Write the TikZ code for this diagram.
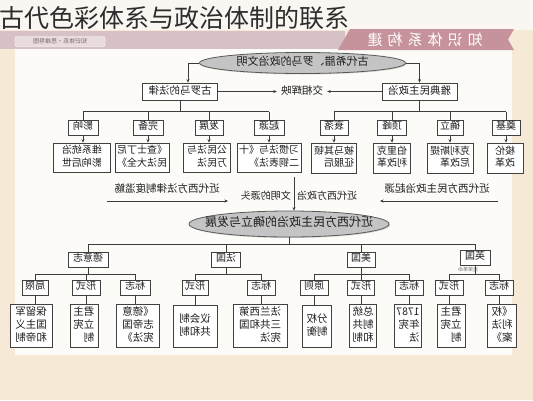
\documentclass[tikz,border=0pt]{standalone}
\usepackage{fontspec}
\usepackage{graphicx}
\setmainfont{Noto Sans CJK SC}
\usetikzlibrary{arrows.meta,shadows,shapes.geometric}
\definecolor{bgc}{RGB}{246,233,214}
\definecolor{topc}{RGB}{250,247,242}
\definecolor{mainc}{RGB}{252,251,248}
\definecolor{band}{RGB}{216,193,198}
\definecolor{lblc}{RGB}{232,220,222}
\definecolor{rib}{RGB}{198,146,155}
\definecolor{lc}{RGB}{60,60,60}
\definecolor{bc}{RGB}{65,65,65}
\definecolor{tc}{RGB}{30,30,30}
\definecolor{ef}{RGB}{196,196,196}
\definecolor{ec}{RGB}{90,90,90}
\newcommand{\mirr}[1]{\reflectbox{\begin{tabular}{@{}l@{}}#1\end{tabular}}}
\begin{document}
\begin{tikzpicture}[x=1pt,y=-1pt,
  conn/.style={draw=lc, line width=0.7pt},
  arr/.style={conn, -{Stealth[length=3.5pt,width=3pt]}},
  cat/.style={draw=bc, fill=white, line width=0.7pt, inner sep=1.5pt, text=tc,
    font=\fontsize{10}{12}\selectfont, minimum height=15pt,
    drop shadow={shadow xshift=0.8pt, shadow yshift=-0.8pt, opacity=0.3}},
  det/.style={cat, inner sep=2pt, font=\fontsize{10}{12.5}\selectfont},
  detb/.style={cat, inner sep=2pt, font=\fontsize{10.5}{13}\selectfont},
  ell/.style={ellipse, draw=ec, fill=ef, line width=0.8pt, inner sep=0pt,
    drop shadow={shadow xshift=1pt, shadow yshift=-1pt, opacity=0.3}},
  lab/.style={text=tc, inner sep=1pt, font=\fontsize{10.5}{12}\selectfont}
]
\useasboundingbox (0,0) rectangle (533,400);
% background
\fill[bgc] (0,0) rectangle (533,400);
\fill[topc] (0,0) rectangle (533,30);
\fill[mainc] (15,49) rectangle (512,355);
% banner
\fill[band] (0,31) rectangle (345,48.5);
\node[fill=lblc, draw=white, rounded corners=2pt, minimum width=90pt, minimum height=10pt,
  inner sep=0.5pt, text={rgb,255:red,125;green,105;blue,110}, font=\fontsize{6}{7}\selectfont]
  (lbl) at (60,41.5) {\reflectbox{知识体系·思维导图}};
\fill[rib] (338,50) -- (350,29) -- (514,29) -- (508,39.5) -- (514,50) -- cycle;
\node[text=white, inner sep=0pt, font=\fontsize{15}{17}\selectfont] (ribt) at (425,40)
  {\reflectbox{知\hspace{5pt}识\hspace{5pt}体\hspace{5pt}系\hspace{5pt}构\hspace{5pt}建}};
% title
\node[anchor=west, inner sep=0pt, text={rgb,255:red,45;green,45;blue,45}, font=\fontsize{25}{28}\selectfont] (title) at (-1,18)
  {古代色彩体系与政治体制的联系};

% ===== top ellipse
\node[ell, minimum width=206pt, minimum height=21pt] (top) at (302.5,63) {};
\node[lab, font=\fontsize{11}{13}\selectfont] (toptxt) at (top.center) {\mirr{古代希腊、罗马的政治文明}};
\node[cat, minimum width=75pt, minimum height=17pt, font=\fontsize{10.5}{12}\selectfont] (rome) at (180,91.5) {\mirr{古罗马的法律}};
\node[cat, minimum width=75pt, minimum height=17pt, font=\fontsize{10.5}{12}\selectfont] (athens) at (419.5,91.5) {\mirr{雅典民主政治}};
\draw[arr] (top.west) -| ([xshift=8pt]rome.north);
\draw[arr] (top.east) -| (athens.north);
\node[lab] (jx) at (302,91.5) {\mirr{交相辉映}};
\draw[arr, shorten >=3pt] (rome.east) -- (jx.west);
\draw[arr, shorten >=3pt] (athens.west) -- (jx.east);

% categories
\coordinate (barA) at (0,111.5);
\node[cat, minimum width=30pt] (c1) at (83,127.5) {\mirr{影响}};
\node[cat, minimum width=30pt] (c2) at (148,127.5) {\mirr{完备}};
\node[cat, minimum width=28pt] (c3) at (209,127.5) {\mirr{发展}};
\node[cat, minimum width=30pt] (c4) at (269,127.5) {\mirr{起源}};
\node[cat, minimum width=28pt] (c5) at (334,127.5) {\mirr{衰落}};
\node[cat, minimum width=29pt] (c6) at (392,127.5) {\mirr{顶峰}};
\node[cat, minimum width=26pt] (c7) at (450,127.5) {\mirr{确立}};
\node[cat, minimum width=28pt] (c8) at (506,127.5) {\mirr{奠基}};
\draw[conn] (rome.south) -- (rome.south |- barA);
\draw[conn] (athens.south) -- (athens.south |- barA);
\draw[conn] (c1.north |- barA) -- (c4.north |- barA);
\draw[conn] (c5.north |- barA) -- (c8.north |- barA);
\foreach \n in {c1,c2,c3,c4,c5,c6,c7,c8} \draw[conn] (\n.north) -- (\n.north |- barA);

% details top
\node[det, minimum width=57pt, minimum height=29pt] (d1) at (82,157.5) {\mirr{维系统治\\影响后世}};
\node[det, minimum width=51pt, minimum height=29pt] (d2) at (142,157.5) {\mirr{《查士丁尼\\民法大全》}};
\node[det, minimum width=47pt, minimum height=29pt] (d3) at (207,157.5) {\mirr{公民法与\\万民法}};
\node[det, minimum width=62pt, minimum height=29pt] (d4) at (269,157.5) {\mirr{习惯法与《十\\二铜表法》}};
\node[det, minimum width=45pt, minimum height=30pt] (d5) at (334,158) {\mirr{被马其顿\\征服后}};
\node[det, minimum width=37pt, minimum height=30pt] (d6) at (392,158) {\mirr{伯里克\\利改革}};
\node[det, minimum width=46pt, minimum height=30pt] (d7) at (450,158) {\mirr{克利斯提\\尼改革}};
\node[det, minimum width=36pt, minimum height=30pt] (d8) at (505,158) {\mirr{梭伦\\改革}};
\foreach \i in {1,...,8} \draw[arr] (c\i.south) -- (c\i.south |- d\i.north);

% middle
\node[lab] (lawsrc) at (167,189.5) {\mirr{近代西方法律制度滥觞}};
\coordinate (la1) at (107,201);
\coordinate (la2) at (228,201);
\draw[arr] (la1) -- (la2);
\node[lab] (demsrc) at (437,189.5) {\mirr{近代西方民主政治起源}};
\coordinate (ra1) at (498,201);
\coordinate (ra2) at (380,201);
\draw[arr] (ra1) -- (ra2);
\node[ell, minimum width=200pt, minimum height=26pt] (bot) at (289,224) {};
\node[lab, font=\fontsize{12}{14}\selectfont] (bottxt) at (bot.center) {\mirr{近代西方民主政治的确立与发展}};
\coordinate (vtop) at (294,177);
\draw[arr] (vtop) -- (vtop |- bot.north);
\node[lab, font=\fontsize{10}{12}\selectfont, anchor=east] (src1) at (292,197) {\mirr{文明的源头}};
\node[lab, font=\fontsize{10}{12}\selectfont, anchor=west] (src2) at (296,197) {\mirr{近代西方政治}};

% countries
\coordinate (barC) at (0,244);
\node[cat, minimum width=40pt, minimum height=14pt] (de) at (88,259.5) {\mirr{德意志}};
\node[cat, minimum width=29pt, minimum height=14pt] (fr) at (226,259.5) {\mirr{法国}};
\node[cat, minimum width=28pt, minimum height=14pt] (us) at (361,259.5) {\mirr{美国}};
\node[cat, minimum width=30pt, minimum height=14pt] (uk) at (475,257.5) {\mirr{英国}};
\draw[conn] (bot.south) -- (bot.south |- barC);
\draw[conn] (de.north |- barC) -- (uk.north |- barC);
\foreach \n in {de,fr,us,uk} \draw[conn] (\n.north) -- (\n.north |- barC);
\node[inner sep=0pt, text={rgb,255:red,120;green,120;blue,120}, font=\fontsize{5}{6}\selectfont] (uklbl) at (468,270) {\reflectbox{光荣革命}};

% subcategories
\coordinate (barD) at (0,274);
\node[cat, minimum width=26pt] (s1) at (35,287.5) {\mirr{局限}};
\node[cat, minimum width=28pt] (s2) at (86,287.5) {\mirr{形式}};
\node[cat, minimum width=30pt] (s3) at (135,287.5) {\mirr{标志}};
\node[cat, minimum width=26pt] (s4) at (195,287.5) {\mirr{形式}};
\node[cat, minimum width=28pt] (s5) at (261,287.5) {\mirr{标志}};
\node[cat, minimum width=28pt] (s6) at (314,287.5) {\mirr{原则}};
\node[cat, minimum width=27pt] (s7) at (361,287.5) {\mirr{形式}};
\node[cat, minimum width=28pt] (s8) at (409,287.5) {\mirr{标志}};
\node[cat, minimum width=28pt] (s9) at (449,287.5) {\mirr{形式}};
\node[cat, minimum width=28pt] (s10) at (499,287.5) {\mirr{标志}};
\draw[conn] (de.south) -- (de.south |- barD);
\draw[conn] (fr.south) -- (fr.south |- barD);
\draw[conn] (us.south) -- (us.south |- barD);
\draw[conn] (uk.south) -- (uk.south |- barD);
\draw[conn] (s1.north |- barD) -- (s3.north |- barD);
\draw[conn] (s4.north |- barD) -- (s5.north |- barD);
\draw[conn] (s6.north |- barD) -- (s8.north |- barD);
\draw[conn] (s9.north |- barD) -- (s10.north |- barD);
\foreach \n in {s1,s2,s3,s4,s5,s6,s7,s8,s9,s10} \draw[conn] (\n.north) -- (\n.north |- barD);

% details bottom
\node[detb, minimum width=42pt, minimum height=42pt] (e1) at (31,326) {\mirr{保留军\\国主义\\和帝制}};
\node[detb, minimum width=28pt, minimum height=42pt] (e2) at (84,326) {\mirr{君主\\立宪\\制}};
\node[detb, minimum width=43pt, minimum height=42pt] (e3) at (138,326) {\mirr{《德意\\志帝国\\宪法》}};
\node[detb, minimum width=44pt, minimum height=42pt] (e4) at (195,326) {\mirr{议会制\\共和制}};
\node[detb, minimum width=54pt, minimum height=42pt] (e5) at (260,326) {\mirr{法兰西第\\三共和国\\宪法}};
\node[detb, minimum width=29pt, minimum height=42pt] (e6) at (317,326) {\mirr{分权\\制衡}};
\node[detb, minimum width=27pt, minimum height=42pt] (e7) at (363,326) {\mirr{总统\\制共\\和制}};
\node[detb, minimum width=27pt, minimum height=42pt] (e8) at (408,326) {\mirr{1787\\年宪\\法}};
\node[detb, minimum width=28pt, minimum height=42pt] (e9) at (451,326) {\mirr{君主\\立宪\\制}};
\node[detb, minimum width=29pt, minimum height=42pt] (e10) at (502,326) {\mirr{《权\\利法\\案》}};
\foreach \i in {1,...,10} \draw[conn] (s\i.south) -- (s\i.south |- e\i.north);
\end{tikzpicture}
\end{document}
